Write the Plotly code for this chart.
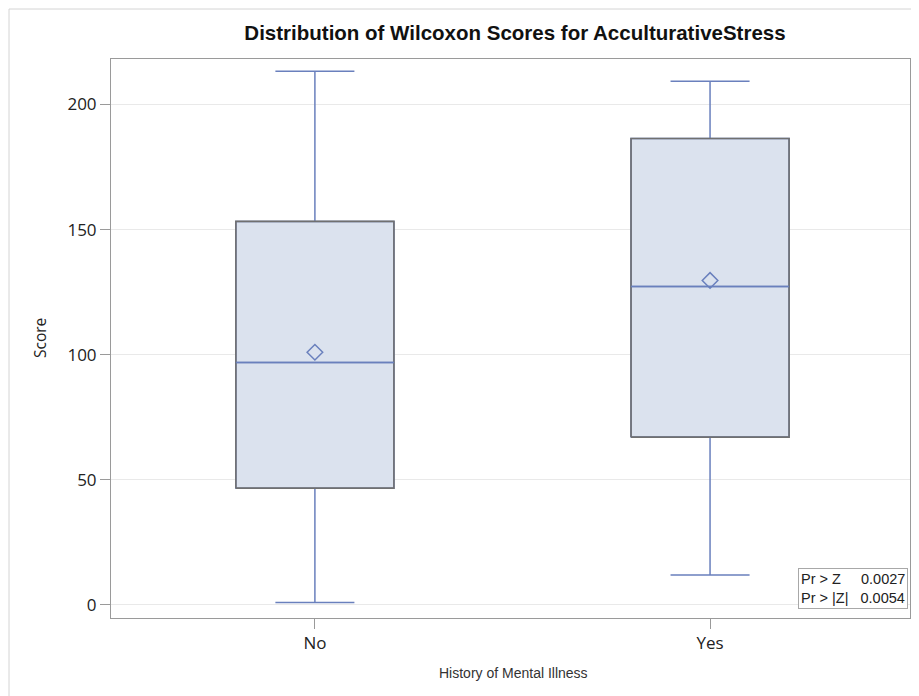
import plotly.graph_objects as go

# ---- data ----
categories = ["No", "Yes"]
lower_whisker = [1, 12]
q1_values = [46.7, 67.1]
median_values = [96.9, 127.3]
q3_values = [153.3, 186.4]
upper_whisker = [213.3, 209.3]
mean_values = [101, 129.7]
y_tick_values = [0, 50, 100, 150, 200]
inset_labels = ["Pr > Z", "Pr > |Z|"]
inset_values = ["0.0027", "0.0054"]

title_text = "Distribution of Wilcoxon Scores for AcculturativeStress"
x_title = "History of Mental Illness"
y_title = "Score"

# ---- styles ----
BOX_FILL = "#dbe2ee"
BLUE = "#6a80bd"
OUTLINE = "#707070"
GRID = "#e9e9e9"
AXIS = "#9a9a9a"
BOX_HALF = 0.2

xpos = list(range(len(categories)))

fig = go.Figure()

fig.add_trace(go.Box(
    x=xpos,
    q1=q1_values, median=median_values, q3=q3_values,
    lowerfence=lower_whisker, upperfence=upper_whisker,
    width=2 * BOX_HALF, whiskerwidth=0.5,
    fillcolor=BOX_FILL,
    line=dict(color=BLUE, width=1.5),
    boxpoints=False, showlegend=False, hoverinfo="skip",
))

# gray outline of each box (built from the quartile arrays)
for xi, lo, hi in zip(xpos, q1_values, q3_values):
    fig.add_trace(go.Scatter(
        x=[xi - BOX_HALF, xi + BOX_HALF, xi + BOX_HALF, xi - BOX_HALF, xi - BOX_HALF],
        y=[lo, lo, hi, hi, lo],
        mode="lines", line=dict(color=OUTLINE, width=1.6),
        showlegend=False, hoverinfo="skip",
    ))

# redraw median over the outline
for xi, med in zip(xpos, median_values):
    fig.add_trace(go.Scatter(
        x=[xi - BOX_HALF, xi + BOX_HALF], y=[med, med],
        mode="lines", line=dict(color=BLUE, width=1.5),
        showlegend=False, hoverinfo="skip",
    ))

fig.add_trace(go.Scatter(
    x=xpos, y=mean_values, mode="markers",
    marker=dict(symbol="diamond-open", size=12, color=BLUE, line=dict(width=1.5, color=BLUE)),
    showlegend=False, hoverinfo="skip",
))

# page body margin offset (html body default margin)
OFF = 8
WIN_W, WIN_H = 919, 696
W, H = WIN_W - OFF, WIN_H - OFF
# plot area in window pixels: x 111..910, y 59..618
PL, PR, PT, PB = 111, 910, 59, 618
L, R, T, B = PL - OFF, W - (PR - OFF), PT - OFF, H - (PB - OFF)
pw, ph = PR - PL, PB - PT


def xp(px):
    return (px - PL) / pw


def yp(py):
    return (PB - py) / ph


gap = {0: "&nbsp;" * 5, 1: "&nbsp;" * 3}
inset_text = "<br>".join(
    lab.replace(">", "&gt;") + gap[i] + val
    for i, (lab, val) in enumerate(zip(inset_labels, inset_values))
)

fig.update_layout(
    width=W, height=H,
    margin=dict(l=L, r=R, t=T, b=B, autoexpand=False),
    paper_bgcolor="white", plot_bgcolor="white",
    font=dict(family="Open Sans, Noto Sans, sans-serif", color="#222"),
    title=dict(
        text=f"<b>{title_text}</b>",
        font=dict(family="Liberation Sans, Arial, sans-serif", size=20.5, color="#111"),
        x=(515 - OFF) / W, xanchor="center",
        y=1 - (33 - OFF) / H, yanchor="middle",
    ),
    xaxis=dict(
        range=[-0.516, 1.506],
        tickmode="array", tickvals=xpos, ticktext=categories,
        tickfont=dict(size=17, color="#222"),
        ticks="outside", ticklen=10, tickcolor=AXIS, tickwidth=1,
        showline=True, linecolor=AXIS, linewidth=1, mirror=True,
        showgrid=False, zeroline=False,
    ),
    yaxis=dict(
        range=[-5.2, 218.2],
        tickmode="array", tickvals=y_tick_values,
        tickfont=dict(size=17, color="#222"),
        ticks="outside", ticklen=10, tickcolor=AXIS, tickwidth=1,
        showline=True, linecolor=AXIS, linewidth=1, mirror=True,
        showgrid=True, gridcolor=GRID, gridwidth=1, zeroline=False,
    ),
    annotations=[
        dict(text=x_title, xref="paper", yref="paper",
             x=xp(513), y=yp(673),
             xanchor="center", yanchor="middle", showarrow=False,
             font=dict(family="Liberation Sans, Arial, sans-serif", size=14, color="#333")),
        dict(text=y_title, xref="paper", yref="paper",
             x=xp(40), y=yp(338), textangle=-90,
             xanchor="center", yanchor="middle", showarrow=False,
             font=dict(size=15.5, color="#222")),
        dict(text=inset_text, xref="paper", yref="paper",
             x=xp(908), y=yp(609), xanchor="right", yanchor="bottom",
             align="left", showarrow=False, bordercolor="#a8a8a8", borderwidth=1,
             borderpad=2, bgcolor="white",
             font=dict(family="Liberation Sans, Arial, sans-serif", size=14.5, color="#222")),
    ],
    shapes=[
        dict(type="rect", xref="paper", yref="paper", layer="below",
             x0=xp(9), x1=xp(WIN_W + 30),
             y0=yp(WIN_H + 30), y1=yp(9),
             line=dict(color="#d4d4d4", width=1)),
    ],
)

fig.write_html("out.html")
